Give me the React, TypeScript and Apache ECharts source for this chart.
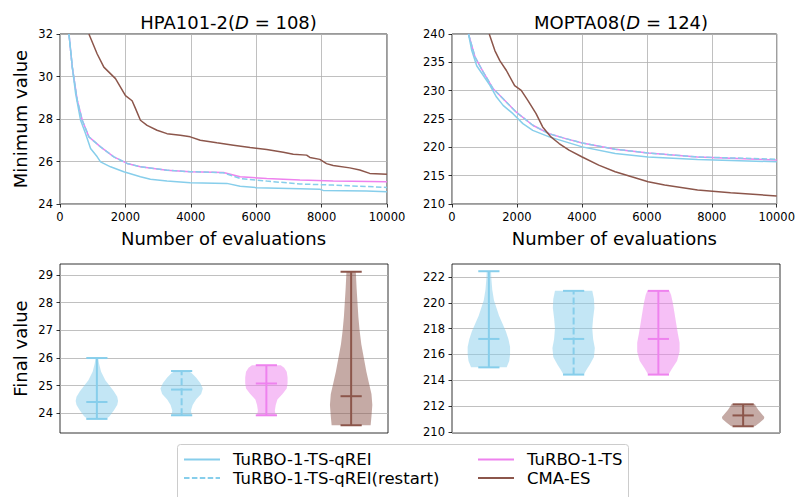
import React, { useEffect, useRef } from 'react';
import * as echarts from 'echarts';

const FONT = 'DejaVu Sans';
const NAMES = ['TuRBO-1-TS-qREI', 'TuRBO-1-TS-qREI(restart)', 'TuRBO-1-TS', 'CMA-ES'];
const COLORS = ['#87CEEB', '#87CEEB', '#EE82EE', '#8C564B'];

// ---- Top-left: HPA101-2 convergence (evaluations, minimum value) ----
const hpaQrei = [[274, 32], [376, 30.44], [478, 29.19], [630, 27.94], [783, 27.31], [935, 26.61], [1138, 26.22], [1240, 25.98], [1545, 25.75], [1951, 25.52], [2459, 25.28], [2764, 25.16], [3272, 25.08], [3984, 25.0], [5102, 24.97], [5508, 24.84], [6016, 24.77], [7337, 24.72], [7947, 24.69], [8049, 24.64], [9370, 24.61], [10000, 24.58]];
const hpaTs = [[274, 32], [376, 30.44], [528, 28.88], [681, 27.94], [884, 27.16], [1240, 26.69], [1646, 26.22], [2053, 25.91], [2459, 25.75], [3272, 25.59], [3984, 25.52], [5000, 25.48], [5508, 25.28], [6321, 25.2], [7337, 25.13], [8354, 25.08], [10000, 25.05]];
const hpaRestart = [[274, 32], [376, 30.44], [528, 28.88], [681, 27.94], [884, 27.16], [1240, 26.69], [1646, 26.22], [2053, 25.91], [2459, 25.75], [3272, 25.59], [3984, 25.52], [5000, 25.47], [5508, 25.2], [6321, 25.08], [7337, 24.94], [8354, 24.89], [10000, 24.78]];
const hpaCma = [[884, 32], [1138, 31.06], [1341, 30.44], [1697, 29.9], [2002, 29.1], [2205, 28.86], [2307, 28.5], [2459, 27.94], [2663, 27.7], [2967, 27.47], [3272, 27.31], [3679, 27.23], [3984, 27.16], [4289, 27.0], [4797, 26.88], [5305, 26.77], [5813, 26.66], [6321, 26.56], [6829, 26.44], [7134, 26.34], [7541, 26.3], [7642, 26.19], [7947, 26.1], [8150, 25.9], [8354, 25.81], [8862, 25.7], [9167, 25.6], [9472, 25.44], [10000, 25.4]];

// ---- Top-right: MOPTA08 convergence ----
const mopQrei = [[508, 240], [609, 237.07], [761, 234.4], [964, 232.68], [1168, 230.92], [1371, 228.87], [1574, 227.4], [1878, 225.94], [2183, 224.18], [2487, 223.0], [2995, 221.84], [3503, 220.96], [4010, 220.08], [5025, 218.9], [6041, 218.3], [7563, 217.85], [10000, 217.45]];
const mopTs = [[508, 240], [711, 235.9], [964, 233.26], [1269, 230.33], [1574, 228.57], [1980, 226.2], [2487, 223.9], [2995, 222.4], [3503, 221.54], [4010, 220.78], [5025, 219.67], [6041, 219.0], [7563, 218.3], [10000, 217.75]];
const mopRestart = [[508, 240], [711, 235.9], [964, 233.26], [1269, 230.33], [1574, 228.57], [1980, 226.2], [2487, 223.9], [2995, 222.4], [3503, 221.54], [4010, 220.78], [5025, 219.67], [6041, 219.0], [7563, 218.3], [10000, 217.9]];
const mopCma = [[1147, 240], [1320, 237.07], [1472, 235.3], [1675, 233.56], [1929, 230.9], [2132, 230.04], [2335, 228.28], [2589, 225.94], [2792, 223.6], [3046, 221.84], [3299, 220.67], [3604, 219.5], [4010, 218.3], [4518, 216.86], [5025, 215.69], [5533, 214.8], [6041, 213.94], [6548, 213.35], [7563, 212.47], [8579, 212.0], [10000, 211.41]];

// ---- Bottom: final values (violins) ----
const violinPositions = [1, 2, 3, 4];
const hpaMin = [23.8, 23.93, 23.93, 23.57];
const hpaMid = [24.41, 24.86, 25.08, 24.62];
const hpaMax = [26.0, 25.53, 25.74, 29.12];
const mopMin = [215.0, 214.44, 214.44, 210.44];
const mopMid = [217.2, 217.2, 217.2, 211.28];
const mopMax = [222.44, 220.92, 220.92, 212.14];

// density profiles: [value, half width]
const hpaProfiles = [
  [[23.8, 0.11], [23.9, 0.15], [24.1, 0.2], [24.3, 0.24], [24.45, 0.25], [24.6, 0.24], [24.8, 0.2], [25.0, 0.15], [25.2, 0.1], [25.5, 0.05], [25.8, 0.025], [26.0, 0.015]],
  [[23.93, 0.12], [24.1, 0.11], [24.3, 0.13], [24.5, 0.17], [24.7, 0.23], [24.9, 0.25], [25.1, 0.22], [25.3, 0.17], [25.45, 0.12], [25.53, 0.08]],
  [[23.93, 0.11], [24.1, 0.1], [24.3, 0.11], [24.5, 0.13], [24.7, 0.19], [24.9, 0.24], [25.1, 0.25], [25.3, 0.25], [25.5, 0.24], [25.65, 0.21], [25.74, 0.17]],
  [[23.57, 0.23], [23.9, 0.24], [24.3, 0.25], [24.7, 0.24], [25.1, 0.21], [25.5, 0.18], [26.0, 0.15], [26.5, 0.12], [27.0, 0.1], [27.5, 0.085], [28.0, 0.075], [28.5, 0.065], [29.12, 0.055]],
];
const mopProfiles = [
  [[215.0, 0.21], [215.5, 0.24], [216.0, 0.25], [216.6, 0.25], [217.2, 0.23], [217.8, 0.2], [218.4, 0.16], [219.0, 0.12], [219.6, 0.09], [220.2, 0.06], [221.0, 0.04], [221.8, 0.03], [222.44, 0.025]],
  [[214.44, 0.12], [214.8, 0.15], [215.2, 0.19], [215.8, 0.24], [216.5, 0.25], [217.2, 0.23], [218.0, 0.22], [218.8, 0.23], [219.6, 0.245], [220.3, 0.24], [220.92, 0.22]],
  [[214.44, 0.12], [214.9, 0.16], [215.5, 0.22], [216.2, 0.25], [216.9, 0.25], [217.6, 0.23], [218.4, 0.21], [219.2, 0.19], [220.0, 0.17], [220.6, 0.15], [220.92, 0.13]],
  [[210.44, 0.14], [210.7, 0.19], [211.0, 0.245], [211.15, 0.25], [211.4, 0.22], [211.7, 0.18], [212.0, 0.15], [212.14, 0.14]],
];

const hpaFinalTicks = [24, 25, 26, 27, 28, 29];
const mopFinalTicks = [210, 212, 214, 216, 218, 220, 222];

const CAP = 0.125;
const DASH = [5.5, 2.4];

function violinRenderer(profile: number[][], color: string, dashed: boolean) {
  return (_params: any, api: any) => {
    const pos = api.value(0);
    const lo = api.value(1);
    const mid = api.value(2);
    const hi = api.value(3);
    const left = profile.map(([v, w]) => api.coord([pos - w, v]));
    const right = profile.slice().reverse().map(([v, w]) => api.coord([pos + w, v]));
    const c = (x: number, y: number) => api.coord([x, y]);
    const seg = (a: number[], b: number[], dash?: number[]) => ({
      type: 'line',
      shape: { x1: a[0], y1: a[1], x2: b[0], y2: b[1] },
      style: { stroke: color, lineWidth: 2, lineDash: dash },
    });
    return {
      type: 'group',
      children: [
        { type: 'polygon', shape: { points: left.concat(right) }, style: { fill: color, opacity: 0.5 } },
        seg(c(pos, lo), c(pos, hi), dashed ? [7, 3] : undefined),
        seg(c(pos - CAP, lo), c(pos + CAP, lo)),
        seg(c(pos - CAP, hi), c(pos + CAP, hi)),
        seg(c(pos - CAP, mid), c(pos + CAP, mid)),
      ],
    };
  };
}

const axisFont = { fontFamily: FONT, fontSize: 11.5, color: '#000' };
const nameFont = { fontFamily: FONT, fontSize: 18, color: '#000' };
const tickStyle = { show: true, length: 3.5, lineStyle: { color: '#000', width: 0.8 } };
const splitStyle = { show: true, lineStyle: { color: '#b0b0b0', width: 0.8 } };

function topX(gridIndex: number) {
  return {
    type: 'value', gridIndex, min: 0, max: 10000, interval: 2000,
    name: 'Number of evaluations', nameLocation: 'middle', nameGap: 25, nameTextStyle: nameFont,
    axisLine: { show: false }, axisTick: tickStyle,
    axisLabel: { ...axisFont, margin: 7, formatter: (v: number) => String(v) }, splitLine: splitStyle,
  };
}
function bottomX(gridIndex: number) {
  return {
    type: 'value', gridIndex, min: 0.565, max: 4.435,
    axisLine: { show: false }, axisTick: { show: false }, axisLabel: { show: false }, splitLine: { show: false },
  };
}

export default function App() {
  const ref = useRef<HTMLDivElement>(null);
  useEffect(() => {
    if (!ref.current) return;
    const chart = echarts.init(ref.current, null, { renderer: 'svg' });
    const lineSeries = (name: string, data: number[][], color: string, grid: number, dashed = false) => ({
      type: 'line', name, data, xAxisIndex: grid, yAxisIndex: grid,
      symbol: 'none', showSymbol: false, clip: true,
      lineStyle: { color, width: 1.5, type: dashed ? DASH : 'solid' },
      itemStyle: { color },
      emphasis: { disabled: true },
    });
    const violinSeries = (label: string, idx: number, grid: number, profiles: number[][][], mins: number[], mids: number[], maxs: number[]) => ({
      type: 'custom', name: label, coordinateSystem: 'cartesian2d', xAxisIndex: grid, yAxisIndex: grid,
      renderItem: violinRenderer(profiles[idx], COLORS[idx], idx === 1),
      data: [[violinPositions[idx], mins[idx], mids[idx], maxs[idx]]],
      silent: true,
    });
    const titleRich = {
      n: { fontFamily: FONT, fontSize: 18, color: '#000', fontWeight: 'normal' },
      i: { fontFamily: FONT, fontSize: 18, color: '#000', fontStyle: 'italic', fontWeight: 'normal' },
    };
    const legendBase = {
      orient: 'vertical', itemWidth: 36, itemHeight: 12, itemGap: 1.5, top: 451, padding: 0,
      itemStyle: { opacity: 0 },
      textStyle: { fontFamily: FONT, fontSize: 16.5, color: '#000', padding: [0, 0, 0, 8] },
    };
    const option: any = {
      animation: false,
      backgroundColor: '#fff',
      title: [
        { text: '{n|HPA101-2(}{i|D}{n| = 108)}', left: 223.5, top: 8, textAlign: 'center', textStyle: { fontWeight: 'normal', rich: titleRich } },
        { text: '{n|MOPTA08(}{i|D}{n| = 124)}', left: 616, top: 8, textAlign: 'center', textStyle: { fontWeight: 'normal', rich: titleRich } },
      ],
      graphic: [
        { type: 'rect', shape: { x: 177.5, y: 444.5, width: 451, height: 70, r: 3 }, style: { fill: '#fff', stroke: '#cccccc', lineWidth: 1 }, z: 0 },
      ],
      legend: [
        { ...legendBase, left: 183, data: [NAMES[0], NAMES[1]] },
        { ...legendBase, left: 477, data: [NAMES[2], NAMES[3]] },
      ],
      grid: [
        { left: 60, top: 34, width: 327, height: 170, show: true, borderColor: '#000', borderWidth: 0.8 },
        { left: 452, top: 34, width: 328, height: 170, show: true, borderColor: '#000', borderWidth: 0.8 },
        { left: 60, top: 264, width: 328, height: 169, show: true, borderColor: '#000', borderWidth: 0.8 },
        { left: 452, top: 264, width: 328, height: 169, show: true, borderColor: '#000', borderWidth: 0.8 },
      ],
      xAxis: [topX(0), topX(1), bottomX(2), bottomX(3)],
      yAxis: [
        {
          type: 'value', gridIndex: 0, min: 24, max: 32, interval: 2,
          name: 'Minimum value', nameLocation: 'middle', nameGap: 31, nameTextStyle: nameFont,
          axisLine: { show: false }, axisTick: tickStyle, axisLabel: { ...axisFont, margin: 7 }, splitLine: splitStyle,
        },
        {
          type: 'value', gridIndex: 1, min: 210, max: 240, interval: 5,
          axisLine: { show: false }, axisTick: tickStyle, axisLabel: { ...axisFont, margin: 7 }, splitLine: splitStyle,
        },
        {
          type: 'value', gridIndex: 2, min: 23.29, max: 29.4, splitNumber: 6, minInterval: 1, maxInterval: 1,
          name: 'Final value', nameLocation: 'middle', nameGap: 31, nameTextStyle: nameFont,
          axisLine: { show: false },
          axisTick: { ...tickStyle, customValues: hpaFinalTicks },
          axisLabel: { ...axisFont, margin: 7, customValues: hpaFinalTicks },
          splitLine: splitStyle,
        },
        {
          type: 'value', gridIndex: 3, min: 209.92, max: 223, splitNumber: 6, minInterval: 2, maxInterval: 2,
          axisLine: { show: false },
          axisTick: { ...tickStyle, customValues: mopFinalTicks },
          axisLabel: { ...axisFont, margin: 7, customValues: mopFinalTicks },
          splitLine: splitStyle,
        },
      ],
      series: [
        lineSeries(NAMES[2], hpaTs, COLORS[2], 0),
        lineSeries(NAMES[0], hpaQrei, COLORS[0], 0),
        lineSeries(NAMES[1], hpaRestart, COLORS[1], 0, true),
        lineSeries(NAMES[3], hpaCma, COLORS[3], 0),
        lineSeries(NAMES[2], mopTs, COLORS[2], 1),
        lineSeries(NAMES[0], mopQrei, COLORS[0], 1),
        lineSeries(NAMES[1], mopRestart, COLORS[1], 1, true),
        lineSeries(NAMES[3], mopCma, COLORS[3], 1),
        ...[0, 1, 2, 3].map((i) => violinSeries(NAMES[i] + ' final (HPA101-2)', i, 2, hpaProfiles, hpaMin, hpaMid, hpaMax)),
        ...[0, 1, 2, 3].map((i) => violinSeries(NAMES[i] + ' final (MOPTA08)', i, 3, mopProfiles, mopMin, mopMid, mopMax)),
      ],
    };
    chart.setOption(option);
    return () => chart.dispose();
  }, []);
  return <div ref={ref} style={{ position: 'fixed', left: 0, top: 0, width: 798, height: 497 }} />;
}
